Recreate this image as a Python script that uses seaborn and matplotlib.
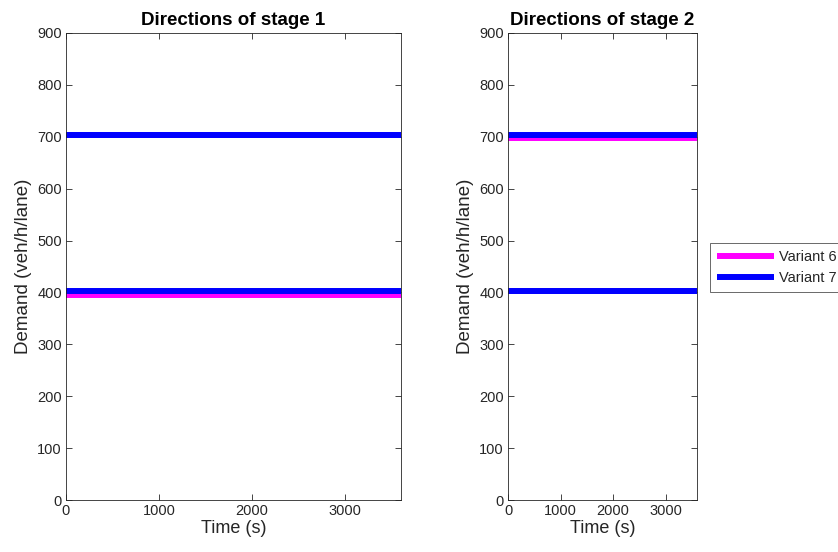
import matplotlib
matplotlib.use("Agg")
import matplotlib.pyplot as plt
import seaborn as sns
import pandas as pd

sns.set_theme(style="white")
plt.rcParams['font.family'] = ['Liberation Sans', 'DejaVu Sans']

time_s = [0, 3600]
series = ["Variant 6", "Variant 7"]
colors = ["#ff00ff", "#0000ff"]
# stage 1: two direction flows per variant
stage1_v6 = [[703, 703], [396, 396]]
stage1_v7 = [[703, 703], [402, 402]]
# stage 2
stage2_v6 = [[697, 697], [402, 402]]
stage2_v7 = [[703, 703], [402, 402]]
titles = ["Directions of stage 1", "Directions of stage 2"]
yticks = [0, 100, 200, 300, 400, 500, 600, 700, 800, 900]
xticks = [0, 1000, 2000, 3000]


def build(v6, v7):
    rows = []
    for name, vals in zip(series, [v6, v7]):
        for d, line in enumerate(vals):
            for t, y in zip(time_s, line):
                rows.append({"Time": t, "Demand": y, "Variant": name, "Dir": f"{name}-{d}"})
    return pd.DataFrame(rows)


fig = plt.figure(figsize=(8.38, 5.52), dpi=100)
ax1 = fig.add_axes([66/838, 52/552, 335/838, 467/552])
ax2 = fig.add_axes([508/838, 52/552, 189/838, 467/552])

for ax, v6, v7, title in zip([ax1, ax2], [stage1_v6, stage2_v6], [stage1_v7, stage2_v7], titles):
    df = build(v6, v7)
    sns.lineplot(data=df, x="Time", y="Demand", hue="Variant", units="Dir",
                 estimator=None, palette=dict(zip(series, colors)),
                 linewidth=4.3, ax=ax, legend=False, solid_capstyle="butt")
    ax.set_xlim(0, 3600)
    ax.set_ylim(0, 900)
    ax.set_xticks(xticks)
    ax.set_yticks(yticks)
    ax.set_title(title, fontsize=13.5, fontweight="bold", pad=6, color="black")
    ax.set_xlabel("Time (s)", fontsize=13, labelpad=1, color="#262626")
    ax.set_ylabel("Demand (veh/h/lane)", fontsize=13.5, labelpad=4, color="#262626")
    ax.tick_params(direction="in", length=4, width=0.6, color="#262626",
                   labelsize=10.5, top=True, right=True, bottom=True, left=True,
                   pad=3, labelcolor="#262626")
    for s in ax.spines.values():
        s.set_color("#262626")
        s.set_linewidth(0.6)

from matplotlib.lines import Line2D
handles = [Line2D([0], [0], color=c, lw=4.3, solid_capstyle="butt") for c in colors]
leg = fig.legend(handles, series, loc="upper left", bbox_to_anchor=(710/838, 1 - 243/552),
                 fontsize=10.5, frameon=True, fancybox=False, borderpad=0.5,
                 handlelength=3.9, handletextpad=0.35, labelspacing=0.45,
                 borderaxespad=0)
leg.get_frame().set_edgecolor("#262626")
leg.get_frame().set_linewidth(0.6)

fig.savefig("out.png", dpi=100)
